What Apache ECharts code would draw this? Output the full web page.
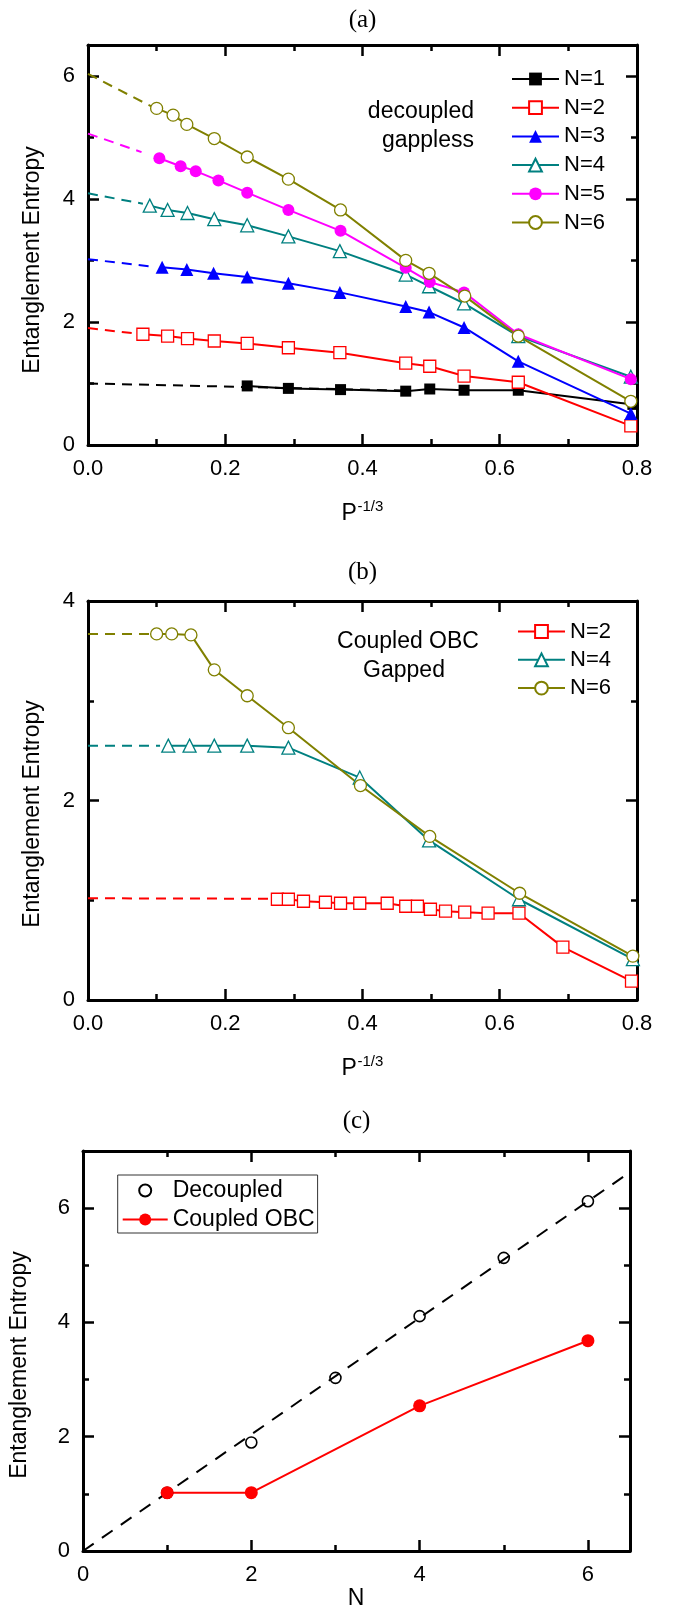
<!DOCTYPE html>
<html><head><meta charset="utf-8">
<script src="https://cdn.jsdelivr.net/npm/echarts@6/dist/echarts.min.js"></script>
<style>html,body{margin:0;padding:0;background:#fff}#c{width:680px;height:1614px}</style>
</head><body><div id="c"></div>
<script>
const FONT = '"Liberation Sans", Arial, Helvetica, sans-serif';
const SERIF = '"Liberation Serif", "DejaVu Serif", serif';

// ---------- Panel (a): decoupled gappless ----------
const aXMajor = [0, 0.2, 0.4, 0.6, 0.8];
const aXMinor = [0.1, 0.3, 0.5, 0.7];
const aYMajor = [0, 2, 4, 6];
const aYMinor = [1, 3, 5];
const aN1x = [0.232, 0.292, 0.368, 0.463, 0.498, 0.548, 0.627, 0.794];
const aN1y = [0.96, 0.92, 0.90, 0.875, 0.91, 0.89, 0.89, 0.66];
const aN2x = [0.080, 0.116, 0.145, 0.184, 0.232, 0.292, 0.367, 0.463, 0.498, 0.548, 0.627, 0.791];
const aN2y = [1.80, 1.77, 1.73, 1.69, 1.65, 1.58, 1.50, 1.33, 1.28, 1.12, 1.02, 0.31];
const aN3x = [0.108, 0.144, 0.183, 0.232, 0.292, 0.367, 0.463, 0.497, 0.548, 0.627, 0.791];
const aN3y = [2.89, 2.85, 2.79, 2.73, 2.63, 2.48, 2.25, 2.16, 1.91, 1.36, 0.51];
const aN4x = [0.090, 0.116, 0.145, 0.184, 0.232, 0.292, 0.367, 0.463, 0.497, 0.548, 0.627, 0.791];
const aN4y = [3.89, 3.82, 3.77, 3.67, 3.57, 3.39, 3.15, 2.77, 2.58, 2.30, 1.77, 1.11];
const aN5x = [0.104, 0.135, 0.157, 0.190, 0.232, 0.292, 0.368, 0.463, 0.498, 0.548, 0.627, 0.791];
const aN5y = [4.66, 4.53, 4.45, 4.30, 4.10, 3.82, 3.48, 2.88, 2.65, 2.48, 1.80, 1.07];
const aN6x = [0.100, 0.124, 0.144, 0.184, 0.232, 0.292, 0.368, 0.463, 0.497, 0.549, 0.627, 0.791];
const aN6y = [5.47, 5.36, 5.21, 4.98, 4.68, 4.32, 3.82, 3.00, 2.79, 2.42, 1.77, 0.71];
// dashed extrapolations (start, end)
const aFit1x = [0, 0.46],  aFit1y = [1.00, 0.885];
const aFit2x = [0, 0.07],  aFit2y = [1.90, 1.81];
const aFit3x = [0, 0.092], aFit3y = [3.02, 2.90];
const aFit4x = [0, 0.08],  aFit4y = [4.09, 3.92];
const aFit5x = [0, 0.078], aFit5y = [5.06, 4.76];
const aFit6x = [0, 0.098], aFit6y = [6.03, 5.47];

// ---------- Panel (b): coupled OBC gapped ----------
const bXMajor = [0, 0.2, 0.4, 0.6, 0.8];
const bXMinor = [0.1, 0.3, 0.5, 0.7];
const bYMajor = [0, 2, 4];
const bYMinor = [1, 3];
const bN2x = [0.276, 0.292, 0.314, 0.346, 0.368, 0.396, 0.436, 0.463, 0.480, 0.499, 0.521, 0.549, 0.583, 0.628, 0.692, 0.792];
const bN2y = [1.01, 1.01, 0.99, 0.98, 0.97, 0.97, 0.97, 0.94, 0.94, 0.91, 0.89, 0.88, 0.87, 0.87, 0.53, 0.19];
const bN4x = [0.117, 0.148, 0.184, 0.232, 0.292, 0.396, 0.497, 0.628, 0.794];
const bN4y = [2.55, 2.55, 2.55, 2.55, 2.53, 2.23, 1.60, 1.01, 0.41];
const bN6x = [0.100, 0.122, 0.150, 0.184, 0.232, 0.292, 0.397, 0.498, 0.629, 0.794];
const bN6y = [3.67, 3.67, 3.66, 3.31, 3.05, 2.73, 2.15, 1.64, 1.07, 0.44];
const bFit2x = [0, 0.265], bFit2y = [1.02, 1.015];
const bFit4x = [0, 0.105], bFit4y = [2.55, 2.55];
const bFit6x = [0, 0.09],  bFit6y = [3.67, 3.67];

// ---------- Panel (c): entropy vs N ----------
const cXMajor = [0, 2, 4, 6];
const cXMinor = [1, 3, 5];
const cYMajor = [0, 2, 4, 6];
const cYMinor = [1, 3, 5];
const cDecN = [1, 2, 3, 4, 5, 6];
const cDecS = [1.02, 1.90, 3.03, 4.11, 5.13, 6.12];
const cCopN = [1, 2, 4, 6];
const cCopS = [1.02, 1.02, 2.54, 3.68];
const cFitx = [0, 6.5], cFitY = [0, 6.63];

// ---------- build ----------
const grids = [
  {left: 88, top: 45, width: 549, height: 400},
  {left: 88, top: 601, width: 549, height: 399},
  {left: 83, top: 1151, width: 547, height: 400}
];
grids.forEach(g => { g.outerBoundsMode = 'none'; g.containLabel = false; });

const xAxes = [], yAxes = [], XI = [], YI = [];
function addAxes(list, idx, gi, dim, min, max, majors, minors, fmt) {
  const pMain = dim === 'x' ? 'bottom' : 'left';
  const pMir = dim === 'x' ? 'top' : 'right';
  const base = () => ({type: 'value', gridIndex: gi, min: min, max: max,
    splitLine: {show: false}, minorTick: {show: false}, minorSplitLine: {show: false}});
  const line = {show: true, onZero: false, lineStyle: {color: '#000', width: 3}};
  const noLine = {show: false, onZero: false};
  const tick = (vals, len) => ({show: true, inside: true, length: len, customValues: vals,
    lineStyle: {color: '#000', width: 2.5}});
  idx.push(list.length);
  list.push(Object.assign(base(), {position: pMain, axisLine: line, axisTick: tick(majors, 11),
    axisLabel: {show: true, customValues: majors, margin: 13, formatter: fmt, color: '#000',
      fontSize: 22, fontFamily: FONT}}));
  list.push(Object.assign(base(), {position: pMain, axisLine: noLine, axisTick: tick(minors, 6), axisLabel: {show: false}}));
  list.push(Object.assign(base(), {position: pMir, axisLine: line, axisTick: tick(majors, 11), axisLabel: {show: false}}));
  list.push(Object.assign(base(), {position: pMir, axisLine: noLine, axisTick: tick(minors, 6), axisLabel: {show: false}}));
}
const f1 = v => Number(v).toFixed(1);
const f0 = v => String(v);
addAxes(xAxes, XI, 0, 'x', 0, 0.8, aXMajor, aXMinor, f1);
addAxes(yAxes, YI, 0, 'y', 0, 6.5, aYMajor, aYMinor, f0);
addAxes(xAxes, XI, 1, 'x', 0, 0.8, bXMajor, bXMinor, f1);
addAxes(yAxes, YI, 1, 'y', 0, 4, bYMajor, bYMinor, f0);
addAxes(xAxes, XI, 2, 'x', 0, 6.5, cXMajor, cXMinor, f0);
addAxes(yAxes, YI, 2, 'y', 0, 7, cYMajor, cYMinor, f0);

const pts = (xs, ys) => xs.map((x, i) => [x, ys[i]]);
function dataSeries(name, xs, ys, color, symbol, open, size, gi) {
  return {name: name, type: 'line', xAxisIndex: XI[gi], yAxisIndex: YI[gi], data: pts(xs, ys),
    symbol: symbol, symbolSize: size, showSymbol: true, showAllSymbol: true, clip: false,
    lineStyle: {color: color, width: 2},
    itemStyle: open ? {color: '#fff', borderColor: color, borderWidth: 1.3}
                    : {color: color, borderColor: color, borderWidth: 0},
    emphasis: {disabled: true}, z: 3};
}
function fitSeries(name, xs, ys, color, gi, dash, width) {
  return {name: name, type: 'line', xAxisIndex: XI[gi], yAxisIndex: YI[gi], data: pts(xs, ys),
    symbol: 'none', silent: true, clip: false,
    lineStyle: {color: color, width: width || 2, type: dash}, emphasis: {disabled: true}, z: 2};
}
const C = {k: '#000000', r: '#ff0000', b: '#0000ff', t: '#008080', m: '#ff00ff', o: '#808000'};
const D = [10, 7];

const series = [
  fitSeries('fa1', aFit1x, aFit1y, C.k, 0, D),
  fitSeries('fa2', aFit2x, aFit2y, C.r, 0, D),
  fitSeries('fa3', aFit3x, aFit3y, C.b, 0, D),
  fitSeries('fa4', aFit4x, aFit4y, C.t, 0, D),
  fitSeries('fa5', aFit5x, aFit5y, C.m, 0, D),
  fitSeries('fa6', aFit6x, aFit6y, C.o, 0, D),
  dataSeries('N=1', aN1x, aN1y, C.k, 'rect', false, 11, 0),
  dataSeries('N=2', aN2x, aN2y, C.r, 'rect', true, 12, 0),
  dataSeries('N=3', aN3x, aN3y, C.b, 'triangle', false, 13, 0),
  dataSeries('N=4', aN4x, aN4y, C.t, 'triangle', true, 13, 0),
  dataSeries('N=5', aN5x, aN5y, C.m, 'circle', false, 12, 0),
  dataSeries('N=6', aN6x, aN6y, C.o, 'circle', true, 12, 0),

  fitSeries('fb2', bFit2x, bFit2y, C.r, 1, D),
  fitSeries('fb4', bFit4x, bFit4y, C.t, 1, D),
  fitSeries('fb6', bFit6x, bFit6y, C.o, 1, D),
  dataSeries('N=2', bN2x, bN2y, C.r, 'rect', true, 12, 1),
  dataSeries('N=4', bN4x, bN4y, C.t, 'triangle', true, 13, 1),
  dataSeries('N=6', bN6x, bN6y, C.o, 'circle', true, 12, 1),

  fitSeries('fc', cFitx, cFitY, C.k, 2, [13, 10]),
  Object.assign(dataSeries('Decoupled', cDecN, cDecS, C.k, 'circle', true, 11, 2),
    {lineStyle: {color: C.k, width: 2, opacity: 0}, itemStyle: {color: 'rgba(255,255,255,0)', borderColor: C.k, borderWidth: 1.6}}),
  dataSeries('Coupled OBC', cCopN, cCopS, C.r, 'circle', false, 13, 2)
];

const legText = {fontSize: 22, lineHeight: 22, fontFamily: FONT, color: '#000'};
const legends = [
  {data: ['N=1', 'N=2', 'N=3', 'N=4', 'N=5', 'N=6'], orient: 'vertical', left: 511, top: 68,
   itemWidth: 47, itemHeight: 16, itemGap: 6.7, padding: 0, textStyle: legText, selectedMode: false},
  {data: ['N=2', 'N=4', 'N=6'], orient: 'vertical', left: 517, top: 620.5,
   itemWidth: 47, itemHeight: 16, itemGap: 6.3, padding: 0, textStyle: legText, selectedMode: false},
  {data: ['Decoupled', 'Coupled OBC'], orient: 'vertical', left: 117.7, top: 1175,
   itemWidth: 45, itemHeight: 15, itemGap: 6, padding: [4, 3, 2, 4],
   borderColor: '#333', borderWidth: 1, backgroundColor: '#fff',
   textStyle: {fontSize: 23, lineHeight: 23, fontFamily: FONT, color: '#000'}, selectedMode: false}
];

const T = (x, y, text, size, opts) => Object.assign({type: 'text', x: x, y: y, silent: true,
  style: Object.assign({text: text, fontSize: size, fontFamily: FONT, fill: '#000',
    align: 'center', verticalAlign: 'middle'}, (opts && opts.style) || {})},
  (opts && opts.el) || {});
const rot = {el: {rotation: Math.PI / 2}};
const graphic = [
  T(362.5, 20, '(a)', 25, {style: {fontFamily: SERIF}}),
  T(362.5, 572.5, '(b)', 25, {style: {fontFamily: SERIF}}),
  T(356.5, 1121, '(c)', 25, {style: {fontFamily: SERIF}}),
  T(33, 260, 'Entanglement Entropy', 23, rot),
  T(33, 814, 'Entanglement Entropy', 23, rot),
  T(19.6, 1365, 'Entanglement Entropy', 23, rot),
  T(341.5, 514, 'P', 23, {style: {align: 'left'}}),
  T(357.5, 507, '-1/3', 15, {style: {align: 'left'}}),
  T(341.5, 1069, 'P', 23, {style: {align: 'left'}}),
  T(357.5, 1062, '-1/3', 15, {style: {align: 'left'}}),
  T(356, 1599, 'N', 23),
  T(474, 112, 'decoupled', 23, {style: {align: 'right'}}),
  T(474, 141, 'gappless', 23, {style: {align: 'right'}}),
  T(408, 642, 'Coupled OBC', 23),
  T(404, 671, 'Gapped', 23)
];

const chart = echarts.init(document.getElementById('c'), null, {renderer: 'canvas'});
chart.setOption({
  backgroundColor: '#fff',
  animation: false,
  grid: grids,
  xAxis: xAxes,
  yAxis: yAxes,
  legend: legends,
  series: series,
  graphic: graphic
});
</script></body></html>
